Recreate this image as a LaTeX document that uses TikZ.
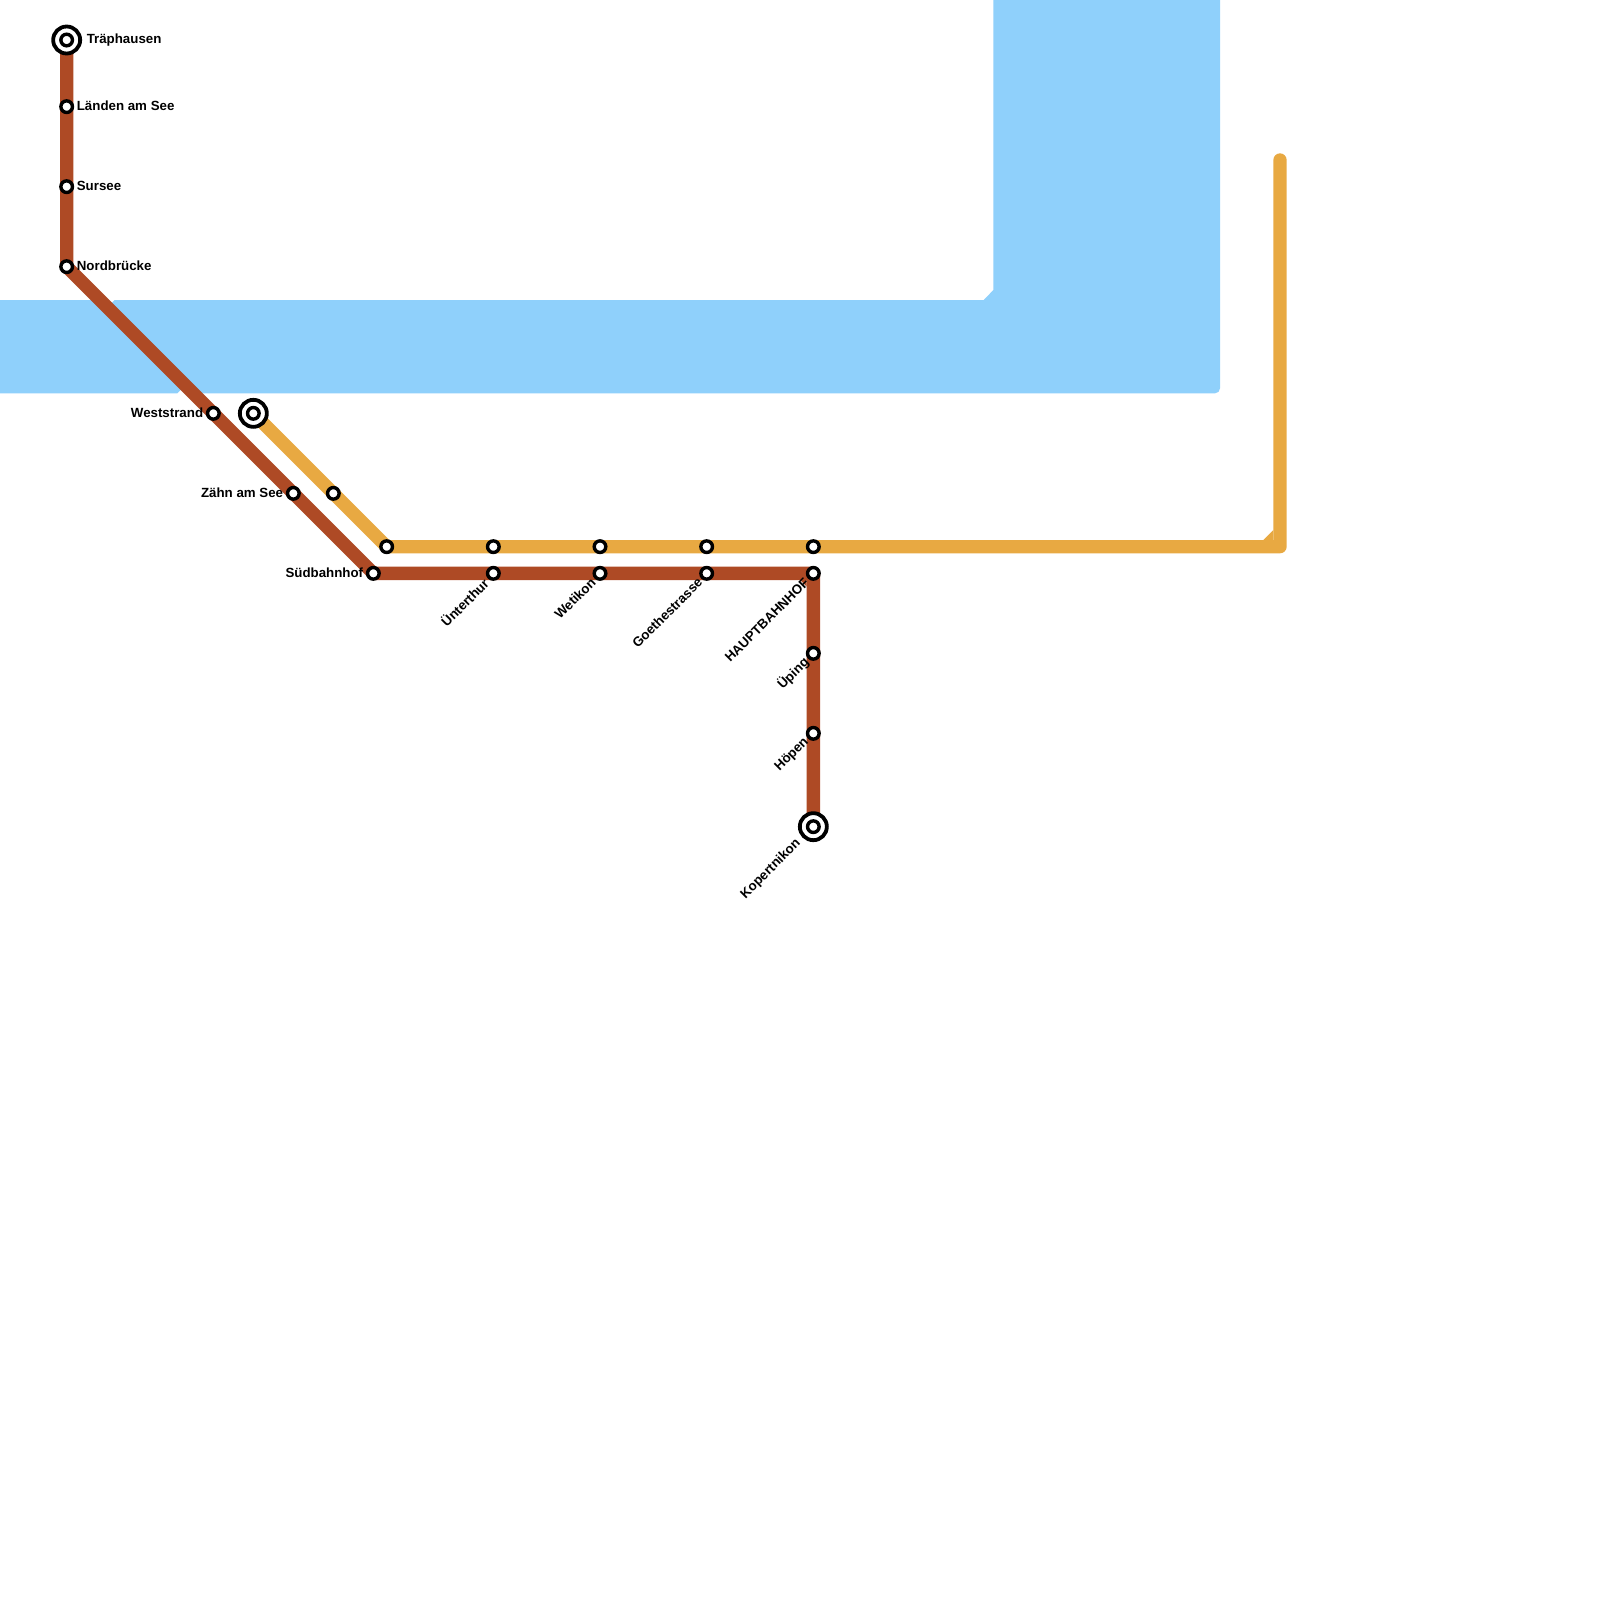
\documentclass[tikz,border=0pt]{standalone}
\usepackage{fontspec}
\setmainfont{Liberation Sans}
\usetikzlibrary{calc,positioning,backgrounds}
\definecolor{waterblue}{HTML}{8FD0FB}
\definecolor{lineorange}{HTML}{E8A942}
\definecolor{linebrown}{HTML}{AE4A25}
\tikzset{
    %Define style for stations
    station/.style={
           circle,
           draw=black, line width=3.4pt,
           fill=white,
           inner sep=0pt,
           outer sep=0pt,
           minimum size=11.6pt},
    terminus/.style={
           circle,
           draw=black, line width=3.8pt,
           fill=white,
           inner sep=0pt,
           outer sep=0pt,
           minimum size=27pt},
    %Define style for labels
    stationname/.style={
           font=\bfseries\fontsize{13.3}{14}\selectfont,
           text=black,
           inner sep=0pt},
    slanted/.style={
           stationname,
           rotate=45,
           anchor=east},
    % Define line style
    metro/.style={
           line width=13.33pt,
           line join=round},
    water/.style={
           fill=waterblue,
           draw=none}
}
\begin{document}
\begin{tikzpicture}[x=13.3333pt,y=-13.3333pt,node distance=4.2pt]
\useasboundingbox (0,0) rectangle (120,120);
% brown line
\node[terminus](traephausenring) at (5,3){};
\node[station](traephausen) at (5,3){};
\node[station](laenden) at (5,8){};
\node[station](sursee) at (5,14){};
\node[station](nordbruecke) at (5,20){};
\node[station](weststrand) at (16,31){};
\node[station](zaehn) at (22,37){};
\node[station](suedbahnhof) at (28,43){};
\node[station](unterthur) at (37,43){};
\node[station](wetikon) at (45,43){};
\node[station](goethe) at (53,43){};
\node[station](hauptbahnhof) at (61,43){};
\node[station](uping) at (61,49){};
\node[station](hoepen) at (61,55){};
\node[terminus](kopertnikonring) at (61,62){};
\node[station](kopertnikon) at (61,62){};
% orange line
\node[terminus](westendring) at (19,31){};
\node[station](westend) at (19,31){};
\node[station](o1) at (25,37){};
\node[station](o2) at (29,41){};
\node[station](o3) at (37,41){};
\node[station](o4) at (45,41){};
\node[station](o5) at (53,41){};
\node[station](o6) at (61,41){};
\coordinate (ocorner) at (96,41);
\coordinate (oend) at (96,12);
% labels
\node[stationname, right=6.4pt of traephausenring.east, anchor=west](ltraephausen){Träphausen};
\node[stationname, right=of laenden, yshift=.8pt](llaenden){Länden am See};
\node[stationname, right=of sursee, yshift=.8pt](lsursee){Sursee};
\node[stationname, right=of nordbruecke, yshift=.8pt](lnordbruecke){Nordbrücke};
\node[stationname, left=of weststrand, yshift=.8pt](lweststrand){Weststrand};
\node[stationname, left=of zaehn, yshift=.8pt](lzaehn){Zähn am See};
\node[stationname, left=of suedbahnhof, yshift=.8pt](lsuedbahnhof){Südbahnhof};
\node[slanted](lunterthur) at ([shift={(-.55,.55)}]unterthur){Ünterthur};
\node[slanted](lwetikon) at ([shift={(-.5,.5)}]wetikon){Wetikon};
\node[slanted](lgoethe) at ([shift={(-.5,.5)}]goethe){Goethestrasse};
\node[slanted](lhauptbahnhof) at ([shift={(-.5,.5)}]hauptbahnhof){HAUPTBAHNHOF};
\node[slanted](luping) at ([shift={(-.5,.5)}]uping){Üping};
\node[slanted](lhoepen) at ([shift={(-.5,.5)}]hoepen){Höpen};
\node[slanted](lkopertnikon) at ([shift={(-1.1,1.1)}]kopertnikon){Kopertnikon};
\begin{pgfonlayer}{background}
% water
\fill[water] (0,22.5) -- (7.5,22.5) -- (13.8,29) -- (13.3,29.5) -- (0,29.5) -- cycle;
\fill[water] (8.6,22.5) -- (73.78,22.5) -- (74.5,21.75) -- (74.5,0) -- (91.5,0)
	[rounded corners=5pt] -- (91.5,29.5) [sharp corners] -- (14.5,29.5) -- (7.7,22.7) -- (8.4,22.7) -- cycle;
% corners of the lines
\fill[lineorange] (94.75,40.5) -- (95.5,39.75) -- (95.5,40.5) -- cycle;
\fill[linebrown] (60,43.5) -- (60.5,44) -- (60.5,43.5) -- cycle;
\draw[metro,lineorange,line cap=round] (westend.center) -- (o1.center) -- (o2.center) -- (o6.center) -- (ocorner) -- (oend);
\draw[metro,linebrown] (traephausen.center) -- (nordbruecke.center) -- (suedbahnhof.center) -- (hauptbahnhof.center) -- (kopertnikon.center);
\end{pgfonlayer}
\end{tikzpicture}
\end{document}
